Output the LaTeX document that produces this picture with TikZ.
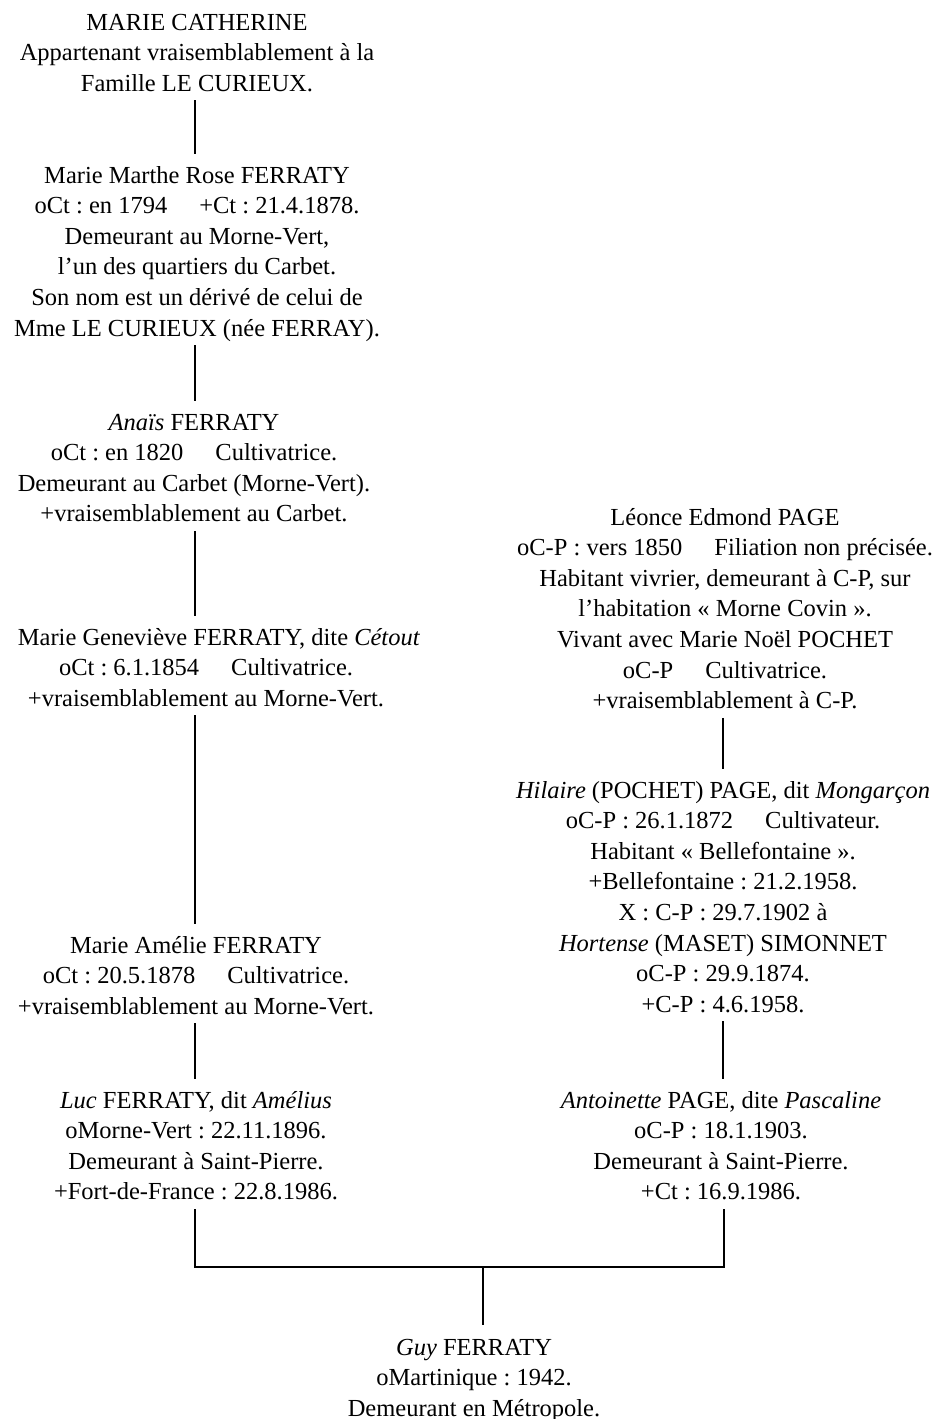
\documentclass[tikz,border=0pt]{standalone}
\usepackage{fontspec}
\setmainfont{Liberation Serif}
\frenchspacing
\newcommand\tabgap{\hspace*{32pt}}
\begin{document}
\begin{tikzpicture}[x=1pt,y=-1pt,
  person/.style={anchor=north, inner sep=0pt, outer sep=0pt, align=center,
    font=\fontsize{24.5}{30.6}\selectfont\frenchspacing},
  link/.style={line width=2pt, shorten >=7.5pt},
  bar/.style={line width=1.7pt}]
\useasboundingbox (0,0) rectangle (941,1419);
\coordinate (colL) at (195,0);
\coordinate (colR) at (723,0);
\coordinate (barL) at (195,1267);
\coordinate (barR) at (724,1267);
\coordinate (join) at (483,1267);

% left column
\node[person] (n1) at (197,8.6) {\strut MARIE CATHERINE\\\strut Appartenant vraisemblablement à la\\\strut Famille LE CURIEUX.};
\node[person] (n2) at (197,161.6) {\strut Marie Marthe Rose FERRATY\\\strut oCt : en 1794\tabgap+Ct : 21.4.1878.\\\strut Demeurant au Morne-Vert,\\\strut l’un des quartiers du Carbet.\\\strut Son nom est un dérivé de celui de\\\strut Mme LE CURIEUX (née FERRAY).};
\node[person] (n3) at (194,408.6) {\strut\textit{Anaïs} FERRATY\\\strut oCt : en 1820\tabgap Cultivatrice.\\\strut Demeurant au Carbet (Morne-Vert).\\\strut +vraisemblablement au Carbet.};
\node[person] (n4) at (206,623.6) {\strut\hspace*{26pt}Marie Geneviève FERRATY, dite \textit{Cétout}\\\strut oCt : 6.1.1854\tabgap Cultivatrice.\\\strut +vraisemblablement au Morne-Vert.};
\node[person] (n5) at (196,931.6) {\strut Marie Amélie FERRATY\\\strut oCt : 20.5.1878\tabgap Cultivatrice.\\\strut +vraisemblablement au Morne-Vert.};
\node[person] (n6) at (196,1086.6) {\strut\textit{Luc} FERRATY, dit \textit{Amélius}\\\strut oMorne-Vert : 22.11.1896.\\\strut Demeurant à Saint-Pierre.\\\strut +Fort-de-France : 22.8.1986.};

% right column
\node[person] (r1) at (725,503.6) {\strut Léonce Edmond PAGE\\\strut oC-P : vers 1850\tabgap Filiation non précisée.\\\strut Habitant vivrier, demeurant à C-P, sur\\\strut l’habitation «~Morne Covin~».\\\strut Vivant avec Marie Noël POCHET\\\strut oC-P\tabgap Cultivatrice.\\\strut +vraisemblablement à C-P.};
\node[person] (r2) at (723,776.6) {\strut\textit{Hilaire} (POCHET) PAGE, dit \textit{Mongarçon}\\\strut oC-P : 26.1.1872\tabgap Cultivateur.\\\strut Habitant «~Bellefontaine~».\\\strut +Bellefontaine : 21.2.1958.\\\strut X : C-P : 29.7.1902 à\\\strut \textit{Hortense} (MASET) SIMONNET\\\strut oC-P : 29.9.1874.\\\strut +C-P : 4.6.1958.};
\node[person] (r3) at (721,1086.6) {\strut\textit{Antoinette} PAGE, dite \textit{Pascaline}\\\strut oC-P : 18.1.1903.\\\strut Demeurant à Saint-Pierre.\\\strut +Ct : 16.9.1986.};

% bottom
\node[person] (g) at (474,1333.6) {\strut\textit{Guy} FERRATY\\\strut oMartinique : 1942.\\\strut Demeurant en Métropole.};

% connectors
\draw[link] (n1.south -| colL) -- (n2.north -| colL);
\draw[link] (n2.south -| colL) -- (n3.north -| colL);
\draw[link] (n3.south -| colL) -- (n4.north -| colL);
\draw[link] (n4.south -| colL) -- (n5.north -| colL);
\draw[link] (n5.south -| colL) -- (n6.north -| colL);
\draw[link] (r1.south -| colR) -- (r2.north -| colR);
\draw[link] (r2.south -| colR) -- (r3.north -| colR);
\draw[bar] (n6.south -| barL) -- (barL) -- (barR) -- (r3.south -| barR);
\draw[bar, shorten >=8.5pt] (join) -- (g.north -| join);
\end{tikzpicture}
\end{document}
